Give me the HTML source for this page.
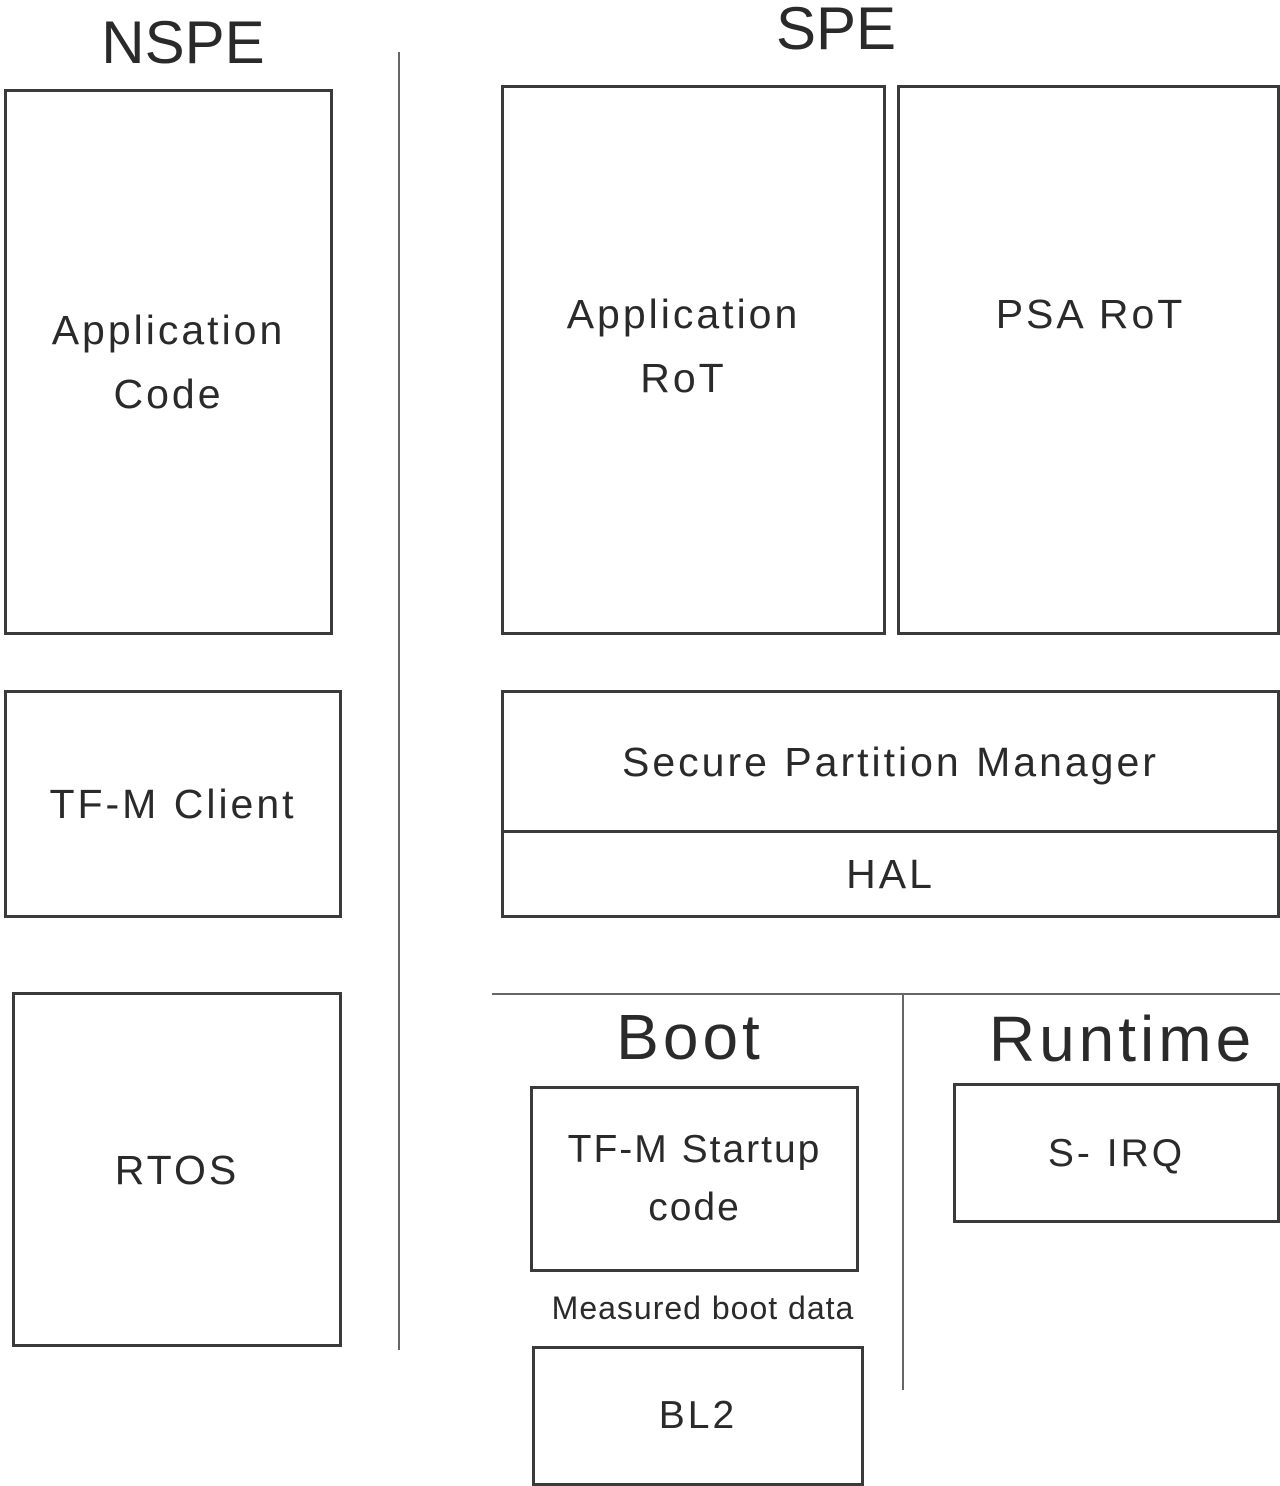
<!DOCTYPE html>
<html><head><style>
body{margin:0;width:1280px;height:1486px;background:#fff;position:relative;overflow:hidden;font-family:"Liberation Sans",sans-serif;color:#2a2a2a}
.b{position:absolute;border:3px solid #3a3a3a;box-sizing:border-box;display:flex;align-items:center;justify-content:center;text-align:center;font-size:41px;line-height:64px;letter-spacing:3px}
.t{position:absolute;text-align:center;white-space:nowrap}
.l{position:absolute;background:#666}
</style></head><body>
<div class="t" style="left:83px;width:200px;top:8px;font-size:60px">NSPE</div>
<div class="t" style="left:736px;width:200px;top:-6px;font-size:60px">SPE</div>
<div class="b" style="left:4px;top:89px;width:329px;height:546px;padding-bottom:0">Application<br>Code</div>
<div class="b" style="left:4px;top:690px;width:338px;height:228px">TF-M Client</div>
<div class="b" style="left:12px;top:992px;width:330px;height:355px">RTOS</div>
<div class="l" style="left:398px;top:52px;width:2px;height:1298px"></div>
<div class="b" style="left:501px;top:85px;width:385px;height:550px;align-items:flex-start;padding-top:194px;padding-right:20px">Application<br>RoT</div>
<div class="b" style="left:897px;top:85px;width:383px;height:550px;align-items:flex-start;padding-top:194px;padding-left:4px">PSA RoT</div>
<div class="b" style="left:501px;top:690px;width:779px;height:143px">Secure Partition Manager</div>
<div class="b" style="left:501px;top:830px;width:779px;height:88px">HAL</div>
<div class="l" style="left:492px;top:993px;width:788px;height:2px"></div>
<div class="l" style="left:902px;top:994px;width:2px;height:396px"></div>
<div class="t" style="left:540px;width:300px;top:1000px;font-size:64px;letter-spacing:4px">Boot</div>
<div class="t" style="left:972px;width:300px;top:1002px;font-size:64px;letter-spacing:4px">Runtime</div>
<div class="b" style="left:530px;top:1086px;width:329px;height:186px;line-height:58px;font-size:39px;letter-spacing:2px">TF-M Startup<br>code</div>
<div class="t" style="left:453px;width:500px;top:1290px;font-size:32px;letter-spacing:1px">Measured boot data</div>
<div class="b" style="left:532px;top:1346px;width:332px;height:140px;font-size:39px">BL2</div>
<div class="b" style="left:953px;top:1083px;width:327px;height:140px;font-size:39px;align-items:flex-start;padding-top:36px">S- IRQ</div>
</body></html>
